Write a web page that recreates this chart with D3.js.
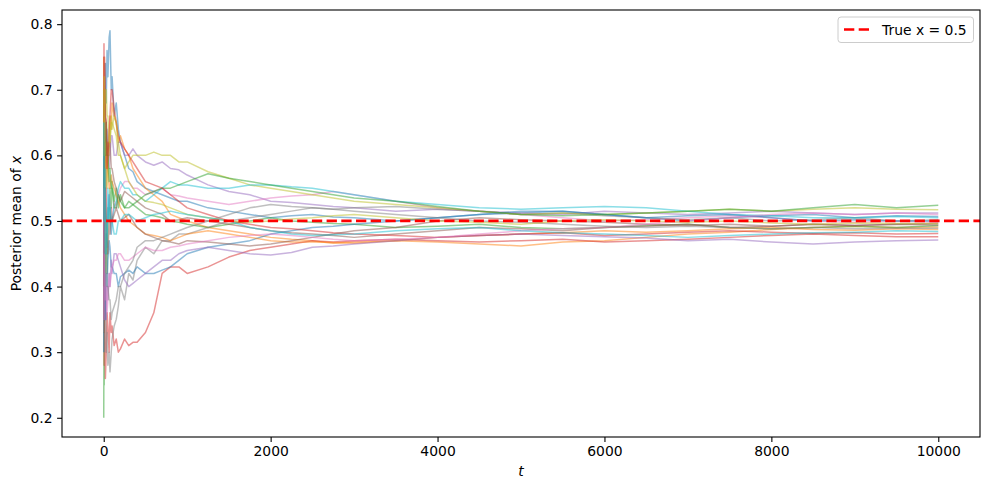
<!DOCTYPE html>
<html>
<head>
<meta charset="utf-8">
<script src="https://cdn.jsdelivr.net/npm/d3@7"></script>
<style>
  body { margin: 0; background: #fff; }
  text { font-family: "DejaVu Sans", sans-serif; }
  .tick text { font-size: 13.9px; fill: #000; }
  .tick line { stroke: #000; stroke-width: 1.1px; }
</style>
</head>
<body>
<svg width="989" height="490"></svg>
<script>
var times = [0, 3, 6, 10, 15, 20, 30, 40, 50, 65, 75, 90, 100, 125, 150, 175, 200, 250, 300, 350,
             400, 500, 600, 700, 800, 900, 1000, 1250, 1500, 1750, 2000, 2250, 2500, 2750, 3000,
             3500, 4000, 4500, 5000, 5500, 6000, 6500, 7000, 7500, 8000, 8500, 9000, 9500, 10000];

var run0  = [0.5, 0.67, 0.58, 0.7, 0.62, 0.74, 0.68, 0.76, 0.72, 0.78, 0.79, 0.7, 0.72, 0.66, 0.68, 0.64, 0.62, 0.6, 0.58, 0.575,
             0.56, 0.55, 0.545, 0.54, 0.535, 0.53, 0.53, 0.52, 0.515, 0.51, 0.505, 0.508, 0.51, 0.506, 0.505,
             0.5, 0.505, 0.51, 0.512, 0.515, 0.51, 0.505, 0.5, 0.505, 0.508, 0.51, 0.505, 0.508, 0.507];
var run1  = [0.5, 0.33, 0.45, 0.4, 0.5, 0.45, 0.55, 0.58, 0.62, 0.6, 0.66, 0.64, 0.68, 0.66, 0.65, 0.62, 0.63, 0.61, 0.6, 0.58,
             0.57, 0.55, 0.54, 0.53, 0.51, 0.505, 0.5, 0.49, 0.485, 0.48, 0.475, 0.472, 0.47, 0.466, 0.468,
             0.47, 0.468, 0.465, 0.462, 0.468, 0.47, 0.475, 0.48, 0.483, 0.487, 0.49, 0.492, 0.49, 0.491];
var run2  = [0.2, 0.33, 0.25, 0.4, 0.35, 0.45, 0.48, 0.42, 0.52, 0.5, 0.55, 0.52, 0.56, 0.53, 0.55, 0.52, 0.54, 0.52, 0.53, 0.525,
             0.52, 0.51, 0.508, 0.505, 0.5, 0.498, 0.495, 0.49, 0.495, 0.5, 0.505, 0.5, 0.498, 0.496, 0.495,
             0.49, 0.492, 0.495, 0.49, 0.488, 0.49, 0.493, 0.495, 0.49, 0.488, 0.49, 0.492, 0.49, 0.493];
var run3  = [0.35, 0.5, 0.28, 0.4, 0.3, 0.26, 0.3, 0.36, 0.34, 0.3, 0.36, 0.33, 0.34, 0.31, 0.32, 0.3, 0.305, 0.32, 0.31, 0.315,
             0.315, 0.33, 0.36, 0.42, 0.43, 0.43, 0.42, 0.43, 0.445, 0.455, 0.46, 0.465, 0.47, 0.468, 0.47,
             0.472, 0.47, 0.468, 0.47, 0.472, 0.468, 0.47, 0.472, 0.475, 0.478, 0.48, 0.478, 0.476, 0.476];
var run4  = [0.6, 0.45, 0.55, 0.5, 0.6, 0.55, 0.6, 0.64, 0.62, 0.58, 0.6, 0.63, 0.63, 0.6, 0.6, 0.62, 0.62, 0.6, 0.6, 0.61,
             0.6, 0.59, 0.585, 0.59, 0.58, 0.578, 0.57, 0.555, 0.545, 0.54, 0.53, 0.528, 0.525, 0.522, 0.52,
             0.515, 0.518, 0.515, 0.512, 0.51, 0.515, 0.512, 0.51, 0.512, 0.515, 0.512, 0.51, 0.512, 0.512];
var run5  = [0.6, 0.75, 0.68, 0.74, 0.7, 0.66, 0.65, 0.6, 0.6, 0.62, 0.62, 0.58, 0.58, 0.56, 0.55, 0.54, 0.53, 0.545, 0.54, 0.535,
             0.53, 0.52, 0.515, 0.51, 0.5, 0.502, 0.505, 0.5, 0.495, 0.49, 0.485, 0.482, 0.48, 0.478, 0.475,
             0.48, 0.485, 0.49, 0.488, 0.485, 0.49, 0.492, 0.495, 0.49, 0.492, 0.495, 0.493, 0.495, 0.494];
var run6  = [0.55, 0.7, 0.6, 0.65, 0.58, 0.6, 0.55, 0.5, 0.5, 0.54, 0.52, 0.48, 0.5, 0.53, 0.52, 0.54, 0.55, 0.56, 0.56, 0.55,
             0.55, 0.54, 0.545, 0.55, 0.54, 0.538, 0.535, 0.53, 0.525, 0.53, 0.535, 0.538, 0.54, 0.545, 0.54,
             0.53, 0.52, 0.515, 0.51, 0.505, 0.5, 0.502, 0.505, 0.508, 0.505, 0.5, 0.498, 0.5, 0.498];
var run7  = [0.45, 0.55, 0.4, 0.45, 0.35, 0.4, 0.3, 0.33, 0.28, 0.3, 0.27, 0.3, 0.32, 0.34, 0.35, 0.37, 0.4, 0.38, 0.42, 0.41,
             0.44, 0.46, 0.45, 0.47, 0.47, 0.48, 0.48, 0.49, 0.5, 0.505, 0.51, 0.515, 0.52, 0.518, 0.52,
             0.522, 0.518, 0.515, 0.51, 0.512, 0.508, 0.505, 0.502, 0.505, 0.5, 0.502, 0.505, 0.5, 0.502];
var run8  = [0.65, 0.7, 0.62, 0.68, 0.6, 0.55, 0.6, 0.55, 0.58, 0.62, 0.62, 0.66, 0.65, 0.64, 0.63, 0.6, 0.6, 0.58, 0.59, 0.6,
             0.6, 0.6, 0.605, 0.6, 0.6, 0.59, 0.59, 0.575, 0.565, 0.555, 0.55, 0.545, 0.54, 0.535, 0.53,
             0.525, 0.52, 0.515, 0.51, 0.512, 0.51, 0.512, 0.515, 0.518, 0.515, 0.518, 0.52, 0.518, 0.517];
var run9  = [0.7, 0.55, 0.62, 0.5, 0.58, 0.52, 0.5, 0.46, 0.55, 0.5, 0.52, 0.48, 0.5, 0.52, 0.53, 0.55, 0.56, 0.55, 0.55, 0.54,
             0.54, 0.53, 0.54, 0.55, 0.56, 0.555, 0.555, 0.55, 0.55, 0.555, 0.555, 0.552, 0.55, 0.545, 0.54,
             0.53, 0.525, 0.52, 0.518, 0.52, 0.522, 0.52, 0.515, 0.51, 0.508, 0.505, 0.505, 0.507, 0.505];
var run10 = [0.3, 0.5, 0.4, 0.45, 0.35, 0.38, 0.42, 0.4, 0.44, 0.47, 0.46, 0.43, 0.43, 0.42, 0.42, 0.4, 0.415, 0.42, 0.425, 0.42,
             0.43, 0.42, 0.42, 0.425, 0.43, 0.44, 0.45, 0.46, 0.465, 0.47, 0.48, 0.485, 0.49, 0.492, 0.495,
             0.5, 0.505, 0.51, 0.515, 0.515, 0.51, 0.505, 0.508, 0.51, 0.505, 0.5, 0.502, 0.5, 0.5];
var run11 = [0.75, 0.6, 0.7, 0.62, 0.65, 0.6, 0.58, 0.62, 0.58, 0.55, 0.55, 0.57, 0.56, 0.55, 0.54, 0.53, 0.52, 0.51, 0.5, 0.495,
             0.49, 0.48, 0.478, 0.475, 0.47, 0.475, 0.48, 0.485, 0.48, 0.475, 0.47, 0.468, 0.468, 0.467, 0.466,
             0.47, 0.475, 0.478, 0.48, 0.482, 0.485, 0.483, 0.485, 0.488, 0.49, 0.487, 0.486, 0.488, 0.487];
var run12 = [0.45, 0.6, 0.5, 0.58, 0.62, 0.6, 0.65, 0.6, 0.6, 0.56, 0.58, 0.55, 0.55, 0.52, 0.52, 0.54, 0.53, 0.52, 0.52, 0.525,
             0.53, 0.54, 0.545, 0.55, 0.55, 0.555, 0.56, 0.572, 0.565, 0.56, 0.555, 0.55, 0.545, 0.54, 0.535,
             0.53, 0.522, 0.515, 0.51, 0.508, 0.51, 0.512, 0.515, 0.518, 0.515, 0.52, 0.525, 0.52, 0.524];
var run13 = [0.6, 0.77, 0.7, 0.75, 0.72, 0.66, 0.65, 0.58, 0.6, 0.64, 0.66, 0.7, 0.7, 0.67, 0.65, 0.63, 0.62, 0.61, 0.6, 0.59,
             0.58, 0.56, 0.555, 0.55, 0.54, 0.53, 0.52, 0.51, 0.5, 0.495, 0.49, 0.488, 0.485, 0.482, 0.48,
             0.478, 0.475, 0.478, 0.48, 0.482, 0.478, 0.48, 0.483, 0.485, 0.483, 0.481, 0.482, 0.48, 0.481];
var run14 = [0.5, 0.4, 0.45, 0.38, 0.4, 0.35, 0.35, 0.4, 0.38, 0.42, 0.4, 0.44, 0.42, 0.45, 0.45, 0.44, 0.43, 0.41, 0.4, 0.405,
             0.41, 0.42, 0.43, 0.44, 0.44, 0.45, 0.455, 0.46, 0.455, 0.45, 0.448, 0.452, 0.46, 0.462, 0.465,
             0.47, 0.475, 0.478, 0.48, 0.478, 0.476, 0.474, 0.47, 0.472, 0.468, 0.465, 0.468, 0.47, 0.471];
var run15 = [0.4, 0.6, 0.5, 0.55, 0.5, 0.55, 0.5, 0.45, 0.45, 0.5, 0.48, 0.52, 0.5, 0.51, 0.52, 0.51, 0.5, 0.505, 0.51, 0.5,
             0.49, 0.48, 0.475, 0.47, 0.468, 0.465, 0.47, 0.468, 0.465, 0.462, 0.465, 0.47, 0.475, 0.48, 0.485,
             0.49, 0.5, 0.505, 0.502, 0.5, 0.498, 0.495, 0.493, 0.495, 0.492, 0.495, 0.493, 0.495, 0.496];
var run16 = [0.55, 0.35, 0.45, 0.4, 0.42, 0.38, 0.4, 0.36, 0.38, 0.42, 0.4, 0.42, 0.43, 0.44, 0.44, 0.45, 0.45, 0.44, 0.44, 0.445,
             0.45, 0.46, 0.455, 0.455, 0.46, 0.462, 0.465, 0.47, 0.475, 0.478, 0.48, 0.478, 0.475, 0.472, 0.47,
             0.472, 0.475, 0.48, 0.485, 0.488, 0.49, 0.495, 0.5, 0.505, 0.51, 0.512, 0.51, 0.512, 0.51];
var run17 = [0.5, 0.65, 0.6, 0.52, 0.55, 0.45, 0.45, 0.4, 0.4, 0.38, 0.38, 0.35, 0.36, 0.37, 0.38, 0.4, 0.4, 0.42, 0.43, 0.44,
             0.46, 0.47, 0.47, 0.475, 0.48, 0.485, 0.49, 0.5, 0.51, 0.52, 0.525, 0.522, 0.52, 0.518, 0.515,
             0.51, 0.505, 0.5, 0.498, 0.495, 0.492, 0.49, 0.492, 0.49, 0.488, 0.49, 0.488, 0.489, 0.489];
var run18 = [0.7, 0.6, 0.72, 0.65, 0.7, 0.68, 0.7, 0.66, 0.66, 0.62, 0.62, 0.65, 0.64, 0.66, 0.65, 0.62, 0.6, 0.58, 0.56, 0.55,
             0.54, 0.53, 0.528, 0.525, 0.52, 0.515, 0.51, 0.505, 0.5, 0.498, 0.5, 0.503, 0.505, 0.508, 0.51,
             0.505, 0.5, 0.498, 0.495, 0.5, 0.502, 0.5, 0.498, 0.5, 0.497, 0.495, 0.497, 0.496, 0.496];
var run19 = [0.65, 0.5, 0.58, 0.52, 0.55, 0.45, 0.45, 0.5, 0.5, 0.54, 0.52, 0.5, 0.5, 0.48, 0.48, 0.5, 0.5, 0.51, 0.51, 0.505,
             0.5, 0.505, 0.51, 0.512, 0.515, 0.512, 0.51, 0.505, 0.5, 0.49, 0.485, 0.48, 0.478, 0.479, 0.48,
             0.485, 0.488, 0.49, 0.485, 0.482, 0.48, 0.478, 0.475, 0.478, 0.48, 0.482, 0.483, 0.485, 0.484];

var runs = [run0, run1, run2, run3, run4, run5, run6, run7, run8, run9,
            run10, run11, run12, run13, run14, run15, run16, run17, run18, run19];

var trueX = 0.5;
var xTicks = [0, 2000, 4000, 6000, 8000, 10000];
var yTicks = [0.2, 0.3, 0.4, 0.5, 0.6, 0.7, 0.8];

var svg = d3.select("svg"),
    margin = {top: 10, right: 9, bottom: 53, left: 62},
    width = svg.attr("width") - margin.left - margin.right,
    height = svg.attr("height") - margin.top - margin.bottom,
    g = svg.append("g").attr("transform", "translate(" + margin.left + "," + margin.top + ")");

var xScale = d3.scaleLinear().domain([-500, 10500]).range([0, width]),
    yScale = d3.scaleLinear().domain([0.1707, 0.8216]).range([height, 0]),
    color = d3.scaleOrdinal(d3.schemeCategory10);

var line = d3.line()
    .x(function(d, i) { return xScale(times[i]); })
    .y(function(d) { return yScale(d); });

g.append("defs").append("clipPath").attr("id", "clip")
  .append("rect").attr("width", width).attr("height", height);

var plot = g.append("g").attr("clip-path", "url(#clip)");

plot.selectAll(".run")
    .data(runs)
  .enter().append("path")
    .attr("class", "run")
    .attr("d", line)
    .attr("fill", "none")
    .attr("stroke", function(d, i) { return color(i % 10); })
    .attr("stroke-opacity", 0.5)
    .attr("stroke-width", 1.5)
    .attr("stroke-linejoin", "round");

plot.append("line")
    .attr("x1", 0).attr("x2", width)
    .attr("y1", yScale(trueX)).attr("y2", yScale(trueX))
    .attr("stroke", "red")
    .attr("stroke-width", 2.7)
    .attr("stroke-dasharray", "10.3,4.4");

// axes
var xAxis = g.append("g")
    .attr("transform", "translate(0," + height + ")")
    .call(d3.axisBottom(xScale).tickValues(xTicks).tickSize(4.9).tickPadding(4.5).tickFormat(d3.format("d")));
var yAxis = g.append("g")
    .call(d3.axisLeft(yScale).tickValues(yTicks).tickSize(4.9).tickPadding(4.5).tickFormat(d3.format(".1f")));
xAxis.select(".domain").remove();
yAxis.select(".domain").remove();
xAxis.selectAll("text").attr("font-family", null);
yAxis.selectAll("text").attr("font-family", null);

g.append("rect")
    .attr("width", width).attr("height", height)
    .attr("fill", "none").attr("stroke", "#000").attr("stroke-width", 1.1);

// axis labels
svg.append("text")
    .attr("x", margin.left + width / 2).attr("y", 476)
    .attr("text-anchor", "middle")
    .style("font-size", "13.9px").style("font-style", "italic")
    .text("t");

var yl = svg.append("text")
    .attr("transform", "translate(21," + (margin.top + height / 2) + ") rotate(-90)")
    .attr("text-anchor", "middle")
    .style("font-size", "13.9px");
yl.append("tspan").text("Posterior mean of ");
yl.append("tspan").style("font-style", "italic").text("x");

// legend
var leg = svg.append("g").attr("transform", "translate(838,17)");
leg.append("rect")
    .attr("width", 135.5).attr("height", 25.5).attr("rx", 3)
    .attr("fill", "#fff").attr("fill-opacity", 0.8)
    .attr("stroke", "#ccc").attr("stroke-width", 1);
leg.append("line")
    .attr("x1", 6).attr("x2", 33).attr("y1", 12.5).attr("y2", 12.5)
    .attr("stroke", "red").attr("stroke-width", 2.7)
    .attr("stroke-dasharray", "10.3,4.4");
leg.append("text")
    .attr("x", 44).attr("y", 17.5)
    .style("font-size", "13.9px")
    .text("True x = 0.5");
</script>
</body>
</html>
